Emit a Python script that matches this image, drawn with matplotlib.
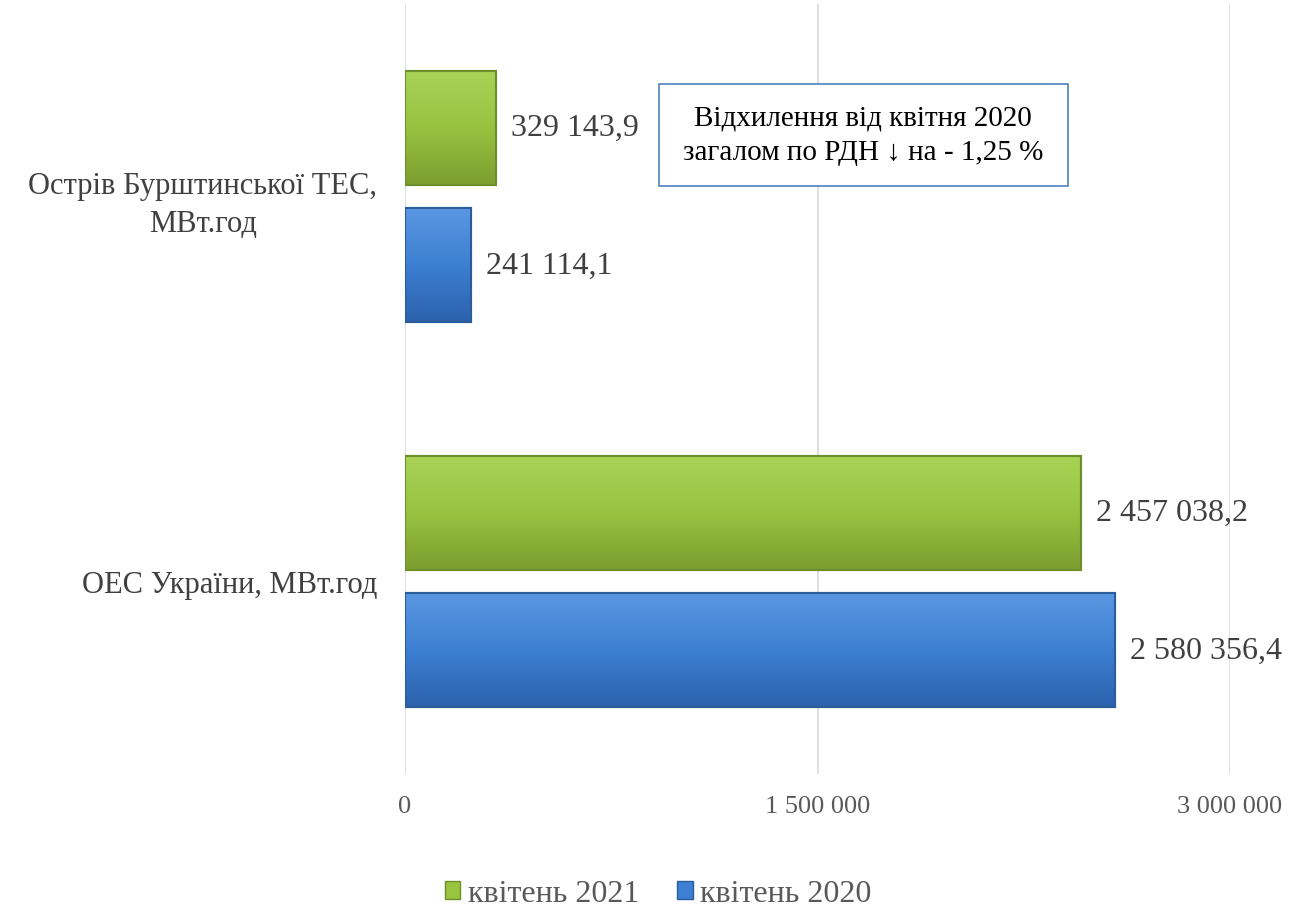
import matplotlib.pyplot as plt
import numpy as np
from matplotlib.patches import Patch, Rectangle
from matplotlib.colors import LinearSegmentedColormap

categories = ["ОЕС України, МВт.год", "Острів Бурштинської ТЕС,\nМВт.год"]
series_names = ["квітень 2021", "квітень 2020"]
values_2021 = [2457038.2, 329143.9]
values_2020 = [2580356.4, 241114.1]
labels_2021 = ["2 457 038,2", "329 143,9"]
labels_2020 = ["2 580 356,4", "241 114,1"]
ticks = [0, 1500000, 3000000]
tick_labels = ["0", "1 500 000", "3 000 000"]

plt.rcParams["font.family"] = ["Liberation Serif", "DejaVu Serif"]

fig = plt.figure(figsize=(12.89, 9.12), dpi=100)
ax = fig.add_axes([405 / 1289, 1 - 775 / 912, 825 / 1289, 770 / 912])

y = np.arange(len(categories))
h = 0.296
off = 0.179
green, green_edge = "#99c43f", "#6d8f2a"
blue, blue_edge = "#3d7fd2", "#2b5c9c"
green_cmap = LinearSegmentedColormap.from_list("g", ["#7c9e30", "#98c240", "#a9d356"])
blue_cmap = LinearSegmentedColormap.from_list("b", ["#2c62ad", "#3d7fd2", "#5a97e2"])

bars_g = ax.barh(y + off, values_2021, height=h, color=green, edgecolor=green_edge, linewidth=1.5, zorder=3)
bars_b = ax.barh(y - off, values_2020, height=h, color=blue, edgecolor=blue_edge, linewidth=1.5, zorder=3)

# vertical shading inside each bar (lighter top, darker bottom)
grad = np.linspace(0, 1, 64).reshape(-1, 1)
for bars, cmap in [(bars_g, green_cmap), (bars_b, blue_cmap)]:
    for b in bars:
        x0, y0, w, hh = b.get_x(), b.get_y(), b.get_width(), b.get_height()
        im = ax.imshow(grad, cmap=cmap, aspect="auto", origin="lower",
                       extent=[x0, x0 + w, y0, y0 + hh], zorder=3.5)
        im.set_clip_path(b)
        ax.add_patch(Rectangle((x0, y0), w, hh, fill=False, edgecolor=b.get_edgecolor(),
                               linewidth=1.5, zorder=4))

for i in range(len(categories)):
    ax.text(values_2021[i] + 55000, y[i] + off, labels_2021[i], va="center", ha="left",
            fontsize=23, color="#404040")
    ax.text(values_2020[i] + 55000, y[i] - off, labels_2020[i], va="center", ha="left",
            fontsize=23, color="#404040")

ax.set_xlim(0, 3000000)
ax.set_ylim(-0.5, 1.5)
ax.set_xticks(ticks)
ax.set_xticklabels(tick_labels, fontsize=19, color="#595959")
ax.set_yticks(y)
ax.set_yticklabels(categories, fontsize=22, color="#404040", ha="right", multialignment="center")
for t in ax.get_yticklabels():
    t.set_linespacing(1.4)
ax.tick_params(axis="y", length=0, pad=20)
ax.tick_params(axis="x", length=0, pad=15)
ax.grid(axis="x", color="#d9d9d9", linewidth=1.2, zorder=0)
for s in ax.spines.values():
    s.set_visible(False)

# annotation box
ax.add_patch(Rectangle((0.308, 0.764), 0.496, 0.132, transform=ax.transAxes, facecolor="white",
                       edgecolor="#4f81bd", linewidth=1.2, zorder=5))
ax.text(0.555, 0.83, "Відхилення від квітня 2020\nзагалом по РДН ↓ на - 1,25 %",
        transform=ax.transAxes, ha="center", va="center", fontsize=21, color="black",
        linespacing=1.45, zorder=6)

handles = [Patch(facecolor=green, edgecolor=green_edge), Patch(facecolor=blue, edgecolor=blue_edge)]
fig.legend(handles, series_names, loc="center", bbox_to_anchor=(658 / 1289, 1 - 895 / 912), ncol=2,
           frameon=False, fontsize=23, handlelength=0.5, handleheight=0.5, handletextpad=0.22,
           columnspacing=1.2, labelcolor="#595959", borderpad=0)

fig.savefig("out.png", dpi=100)
